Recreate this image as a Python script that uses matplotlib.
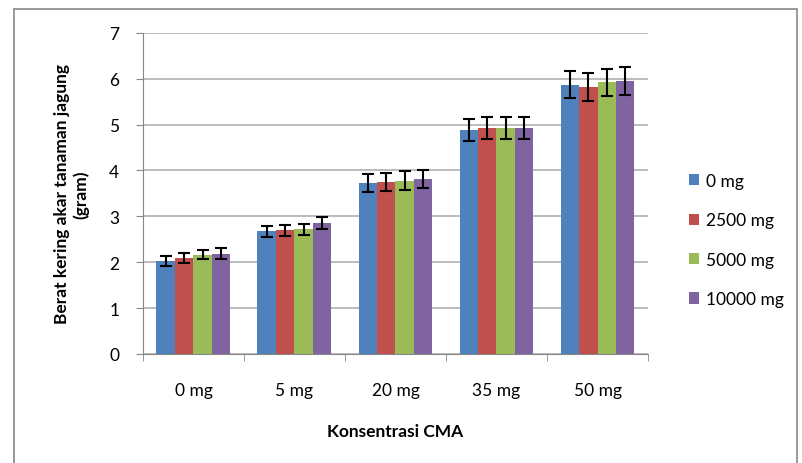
import matplotlib.pyplot as plt
import numpy as np
from matplotlib.patches import Rectangle

plt.rcParams['font.family'] = ['Lato', 'DejaVu Sans']

categories = ['0 mg', '5 mg', '20 mg', '35 mg', '50 mg']
series = ['0 mg', '2500 mg', '5000 mg', '10000 mg']
values = [
    [2.03, 2.68, 3.72, 4.88, 5.87],
    [2.10, 2.70, 3.75, 4.92, 5.82],
    [2.16, 2.72, 3.78, 4.93, 5.92],
    [2.19, 2.85, 3.82, 4.92, 5.95],
]
errors = [
    [0.11, 0.12, 0.20, 0.24, 0.30],
    [0.11, 0.12, 0.20, 0.24, 0.30],
    [0.10, 0.12, 0.20, 0.24, 0.30],
    [0.11, 0.13, 0.20, 0.24, 0.30],
]
colors = ['#4F81BD', '#C0504D', '#9BBB59', '#8064A2']

fig = plt.figure(figsize=(8.03, 4.64), dpi=100)
ax = fig.add_axes([0.178, 0.235, 0.629, 0.692])

# outer frame like the Excel chart area
fig.patches.append(Rectangle((0.017, -0.01), 0.975, 0.988, transform=fig.transFigure,
                             fill=False, edgecolor='#888888', linewidth=1.2))

x = np.arange(len(categories))
w = 0.183
for i in range(len(series)):
    ax.bar(x + (i - 1.5) * w, values[i], w, color=colors[i], label=series[i],
           yerr=errors[i], capsize=4,
           error_kw=dict(ecolor='black', elinewidth=1.5, capthick=1.5), zorder=3)

ax.set_xlim(-0.5, 4.5)
ax.set_ylim(0, 7)
ax.set_yticks(range(8))
ax.yaxis.grid(True, color='#B0B0B0', linewidth=1.2, zorder=0)
ax.set_xticks(x)
ax.set_xticklabels(categories)
ax.set_xticks(np.arange(-0.5, 5, 1), minor=True)
ax.tick_params(axis='x', which='major', length=0, pad=20, labelsize=12.5)
ax.tick_params(axis='x', which='minor', length=5, color='#888888')
ax.tick_params(axis='y', length=5, color='#888888', pad=12, labelsize=12.5)

for s in ['top', 'right']:
    ax.spines[s].set_visible(False)
for s in ['left', 'bottom']:
    ax.spines[s].set_color('#888888')

ax.set_xlabel('Konsentrasi CMA', fontweight='bold', fontsize=12.5, labelpad=18)
ax.set_ylabel('Berat kering akar tanaman jagung\n(gram)', fontweight='bold',
              fontsize=12.5, labelpad=14, multialignment='center')

ax.legend(loc='center left', bbox_to_anchor=(1.05, 0.355), frameon=False,
          fontsize=12.5, handlelength=0.6, handleheight=0.6, labelspacing=1.35,
          handletextpad=0.4)

fig.savefig('out.png', dpi=100)
